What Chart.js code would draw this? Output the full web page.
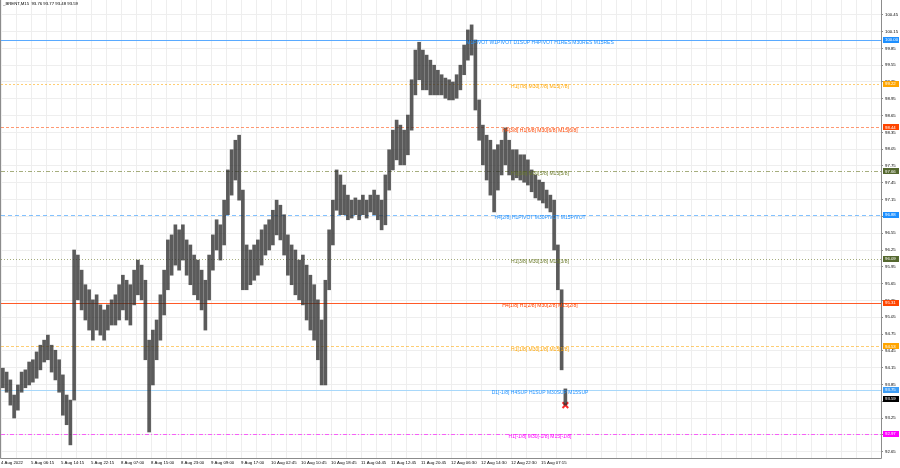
<!DOCTYPE html>
<html>
<head>
<meta charset="utf-8">
<script src="https://cdn.jsdelivr.net/npm/chart.js@4.4.1/dist/chart.umd.min.js"></script>
<style>
  html, body { margin: 0; padding: 0; background: #fff; }
  #chart { display: block; }
</style>
</head>
<body>
<canvas id="chart" width="900" height="468"></canvas>
<script>
const symbolTitle = '_BRENT,M15  93.76 93.77 93.48 93.59';

// one label every 32 M15 bars (8 columns of 4 bars)
const timeLabels = [
  '4 Aug 2022', '5 Aug 06:15', '5 Aug 14:15', '5 Aug 22:15', '8 Aug 07:00',
  '8 Aug 15:00', '8 Aug 23:00', '9 Aug 09:00', '9 Aug 17:00', '10 Aug 02:45',
  '10 Aug 10:45', '10 Aug 18:45', '11 Aug 04:45', '11 Aug 12:45', '11 Aug 20:45',
  '12 Aug 06:30', '12 Aug 14:30', '12 Aug 22:30', '15 Aug 07:15'
];

const priceTicks = [
  92.65, 92.95, 93.25, 93.55, 93.85, 94.15, 94.45, 94.75, 95.05, 95.35,
  95.65, 95.95, 96.25, 96.55, 96.85, 97.15, 97.45, 97.75, 98.05, 98.35,
  98.65, 98.95, 99.25, 99.55, 99.85, 100.15, 100.45
];

// high / low of each group of 4 bars
const highs = [
  94.14, 94.07, 93.93, 93.66, 93.84, 94.07, 94.11, 94.25, 94.29, 94.43,
  94.55, 94.64, 94.73, 94.55, 94.46, 94.29, 94.02, 93.66, 93.57, 96.25,
  96.16, 95.89, 95.63, 95.54, 95.36, 95.45, 95.27, 95.18, 95.27, 95.36,
  95.45, 95.63, 95.80, 95.71, 95.63, 95.89, 96.07, 95.98, 95.71, 94.64,
  94.82, 95.00, 95.45, 95.89, 96.43, 96.52, 96.70, 96.61, 96.70, 96.43,
  96.34, 96.16, 96.07, 95.89, 95.71, 96.16, 96.52, 96.79, 96.70, 97.14,
  97.68, 98.04, 98.21, 98.30, 97.32, 96.34, 96.25, 96.34, 96.43, 96.61,
  96.70, 96.79, 96.96, 97.14, 97.05, 96.88, 96.52, 96.34, 96.25, 96.07,
  96.16, 95.98, 95.80, 95.63, 95.36, 95.00, 95.71, 96.61, 97.14, 97.68,
  97.59, 97.41, 97.23, 97.14, 97.18, 97.14, 97.23, 97.14, 97.23, 97.32,
  97.23, 97.14, 97.59, 98.04, 98.39, 98.57, 98.48, 98.39, 98.66, 99.29,
  99.82, 99.96, 99.82, 99.73, 99.64, 99.55, 99.46, 99.38, 99.32, 99.29,
  99.25, 99.38, 99.55, 99.91, 100.18, 100.27, 100.00, 98.93, 98.48, 98.30,
  98.21, 98.04, 98.13, 98.21, 98.43, 98.21, 98.04, 98.04, 97.95, 97.95,
  97.86, 97.68, 97.59, 97.50, 97.46, 97.32, 97.23, 97.14, 96.34, 95.54,
  93.77
];
const lows = [
  93.79, 93.71, 93.48, 93.25, 93.39, 93.71, 93.79, 93.84, 93.89, 93.96,
  94.11, 94.25, 94.29, 94.07, 93.93, 93.71, 93.30, 93.13, 92.77, 93.57,
  95.36, 95.18, 95.00, 94.82, 94.64, 94.82, 94.73, 94.64, 94.82, 94.91,
  94.91, 95.00, 95.18, 95.00, 94.91, 95.27, 95.45, 95.36, 94.29, 93.00,
  93.84, 94.29, 94.64, 95.09, 95.54, 95.80, 95.98, 95.89, 96.07, 95.80,
  95.63, 95.45, 95.36, 95.18, 94.82, 95.36, 95.89, 96.25, 96.07, 96.34,
  96.88, 97.23, 97.50, 97.14, 95.54, 95.54, 95.63, 95.71, 95.80, 95.98,
  96.16, 96.25, 96.34, 96.52, 96.43, 96.16, 95.80, 95.63, 95.45, 95.36,
  95.27, 95.00, 94.82, 94.64, 94.29, 93.84, 93.84, 95.54, 96.34, 96.96,
  96.88, 96.88, 96.79, 96.82, 96.88, 96.79, 96.88, 96.82, 96.93, 96.88,
  96.79, 96.61, 96.70, 97.32, 97.68, 97.86, 97.77, 97.77, 97.95, 98.39,
  99.02, 99.29, 99.11, 99.11, 99.02, 99.02, 99.02, 99.02, 98.96, 98.93,
  98.93, 98.96, 99.11, 99.38, 99.64, 99.73, 98.75, 98.21, 97.77, 97.50,
  97.23, 96.93, 97.32, 97.59, 97.77, 97.59, 97.50, 97.54, 97.50, 97.46,
  97.41, 97.29, 97.18, 97.14, 97.09, 97.00, 96.93, 96.25, 95.54, 94.11,
  93.48
];

const lastPrice = 93.59;
const lastLow = 93.48;

const levelPrices = [100.00, 99.22, 98.44, 97.66, 96.88, 96.09, 95.31, 94.53, 93.75, 92.97];
const levelTexts = [
  'M1PIVOT W1PIVOT D1SUP H4PIVOT H1RES M30RES M15RES',
  'H1[7/8] M30[7/8] M15[7/8]',
  'H4[3/8] H1[6/8] M30[6/8] M15[6/8]',
  'H1[5/8] M30[5/8] M15[5/8]',
  'H4[2/8] H1PIVOT M30PIVOT M15PIVOT',
  'H1[3/8] M30[3/8] M15[3/8]',
  'H4[1/8] H1[2/8] M30[2/8] M15[2/8]',
  'H1[1/8] M30[1/8] M15[1/8]',
  'D1[-1/8] H4SUP H1SUP M30SUP M15SUP',
  'H1[-1/8] M30[-1/8] M15[-1/8]'
];

// line colour, dash, text colour, axis box colour for each level
const levelStyles = [
  { line: '#5aaaff', dash: [], text: '#1e90ff', box: '#1e90ff' },
  { line: 'rgba(255,165,0,0.55)', dash: [2, 2], text: '#ffa500', box: '#ffa500' },
  { line: 'rgba(255,69,0,0.55)', dash: [3, 2], text: '#ff4500', box: '#ff4500' },
  { line: 'rgba(107,120,40,0.6)', dash: [4, 2, 1, 2], text: '#6b7a2a', box: '#55682f' },
  { line: 'rgba(30,144,255,0.55)', dash: [4, 3], text: '#1e90ff', box: '#1e90ff' },
  { line: 'rgba(107,120,40,0.6)', dash: [1, 2], text: '#6b7a2a', box: '#55682f' },
  { line: '#ff5a28', dash: [], text: '#ff4500', box: '#ff4500' },
  { line: 'rgba(255,165,0,0.55)', dash: [3, 2], text: '#ffa500', box: '#ffa500' },
  { line: '#a8d8fa', dash: [], text: '#1e90ff', box: '#3d9df5' },
  { line: 'rgba(255,0,255,0.6)', dash: [4, 2, 1, 2], text: '#ff00ff', box: '#ff00ff' }
];

const axisFont = { family: 'Liberation Sans', size: 4.3 };

const levelsPlugin = {
  id: 'levels',
  beforeDatasetsDraw(chart) {
    const { ctx, chartArea, scales } = chart;
    ctx.save();
    levelPrices.forEach((p, i) => {
      const y = Math.round(scales.y.getPixelForValue(p)) + 0.5;
      ctx.strokeStyle = levelStyles[i].line;
      ctx.setLineDash(levelStyles[i].dash);
      ctx.lineWidth = 1;
      ctx.beginPath();
      ctx.moveTo(chartArea.left, y);
      ctx.lineTo(chartArea.right, y);
      ctx.stroke();
    });
    ctx.restore();
  },
  afterDatasetsDraw(chart) {
    const { ctx, scales } = chart;
    ctx.save();
    ctx.font = '5px "Liberation Sans"';
    ctx.textAlign = 'center';
    ctx.textBaseline = 'middle';
    levelPrices.forEach((p, i) => {
      const y = scales.y.getPixelForValue(p);
      ctx.fillStyle = levelStyles[i].text;
      ctx.fillText(levelTexts[i], 540, y + 3);
    });
    ctx.restore();
  },
  afterDraw(chart) {
    const { ctx, chartArea, scales } = chart;
    ctx.save();
    // frame
    ctx.strokeStyle = '#8c8c8c';
    ctx.lineWidth = 1;
    ctx.beginPath();
    ctx.moveTo(0.5, 0);
    ctx.lineTo(0.5, chartArea.bottom + 0.5);
    ctx.lineTo(chartArea.right + 0.5, chartArea.bottom + 0.5);
    ctx.lineTo(chartArea.right + 0.5, 0);
    ctx.stroke();

    ctx.font = '4.3px "Liberation Sans"';
    ctx.textBaseline = 'middle';
    ctx.textAlign = 'left';
    const boxes = levelPrices.map((p, i) => ({ p, color: levelStyles[i].box }));
    boxes.push({ p: lastPrice, color: '#000000' });
    boxes.forEach(b => {
      const y = scales.y.getPixelForValue(b.p);
      ctx.fillStyle = b.color;
      ctx.fillRect(chartArea.right + 2, Math.round(y) - 3, 16, 6);
      ctx.fillStyle = '#ffffff';
      ctx.fillText(b.p.toFixed(2), chartArea.right + 4, y + 0.3);
    });

    ctx.fillStyle = '#000000';
    ctx.fillText(symbolTitle, 3, 4);
    ctx.restore();
  }
};

const candles = highs.map((h, i) => ({ x: i + 0.5, y: [lows[i], h] }));

const noPad = s => {
  s.paddingTop = 0;
  s.paddingBottom = 0;
  s.paddingLeft = 0;
  s.paddingRight = 0;
};

new Chart(document.getElementById('chart'), {
  type: 'bar',
  data: {
    datasets: [
      {
        data: candles,
        backgroundColor: 'rgba(45,45,45,0.78)',
        barThickness: 3,
        grouped: false
      },
      {
        type: 'line',
        data: [{ x: highs.length - 0.5, y: lastLow }],
        showLine: false,
        pointStyle: 'crossRot',
        pointRadius: 4,
        pointBorderWidth: 2,
        pointBorderColor: '#ff2a2a'
      }
    ]
  },
  options: {
    responsive: false,
    animation: false,
    devicePixelRatio: 1,
    layout: { autoPadding: false, padding: { left: 1, top: 0, right: 0, bottom: 0 } },
    plugins: { legend: { display: false }, tooltip: { enabled: false } },
    scales: {
      x: {
        type: 'linear',
        min: 0,
        max: 880 / 3.75,
        offset: false,
        afterFit: s => { s.height = 10; noPad(s); },
        afterBuildTicks: s => {
          const t = [];
          for (let v = 0; v <= s.max; v += 4) t.push({ value: v });
          s.ticks = t;
        },
        grid: { color: '#eeeeee', offset: false, drawTicks: false },
        border: { display: false },
        ticks: {
          autoSkip: false,
          maxRotation: 0,
          align: 'start',
          padding: 2,
          color: '#000',
          font: axisFont,
          callback: v => (v % 8 === 0 && timeLabels[v / 8]) ? timeLabels[v / 8] : ''
        }
      },
      y: {
        position: 'right',
        min: 100 - 418 / 56,
        max: 100 + 40 / 56,
        afterFit: s => { s.width = 19; noPad(s); },
        afterBuildTicks: s => { s.ticks = priceTicks.map(v => ({ value: v })); },
        grid: { color: '#eeeeee', tickLength: 2, tickColor: '#8c8c8c' },
        border: { display: false },
        ticks: {
          padding: 2,
          color: '#000',
          font: axisFont,
          callback: v => v.toFixed(2)
        }
      }
    }
  },
  plugins: [levelsPlugin]
});
</script>
</body>
</html>
